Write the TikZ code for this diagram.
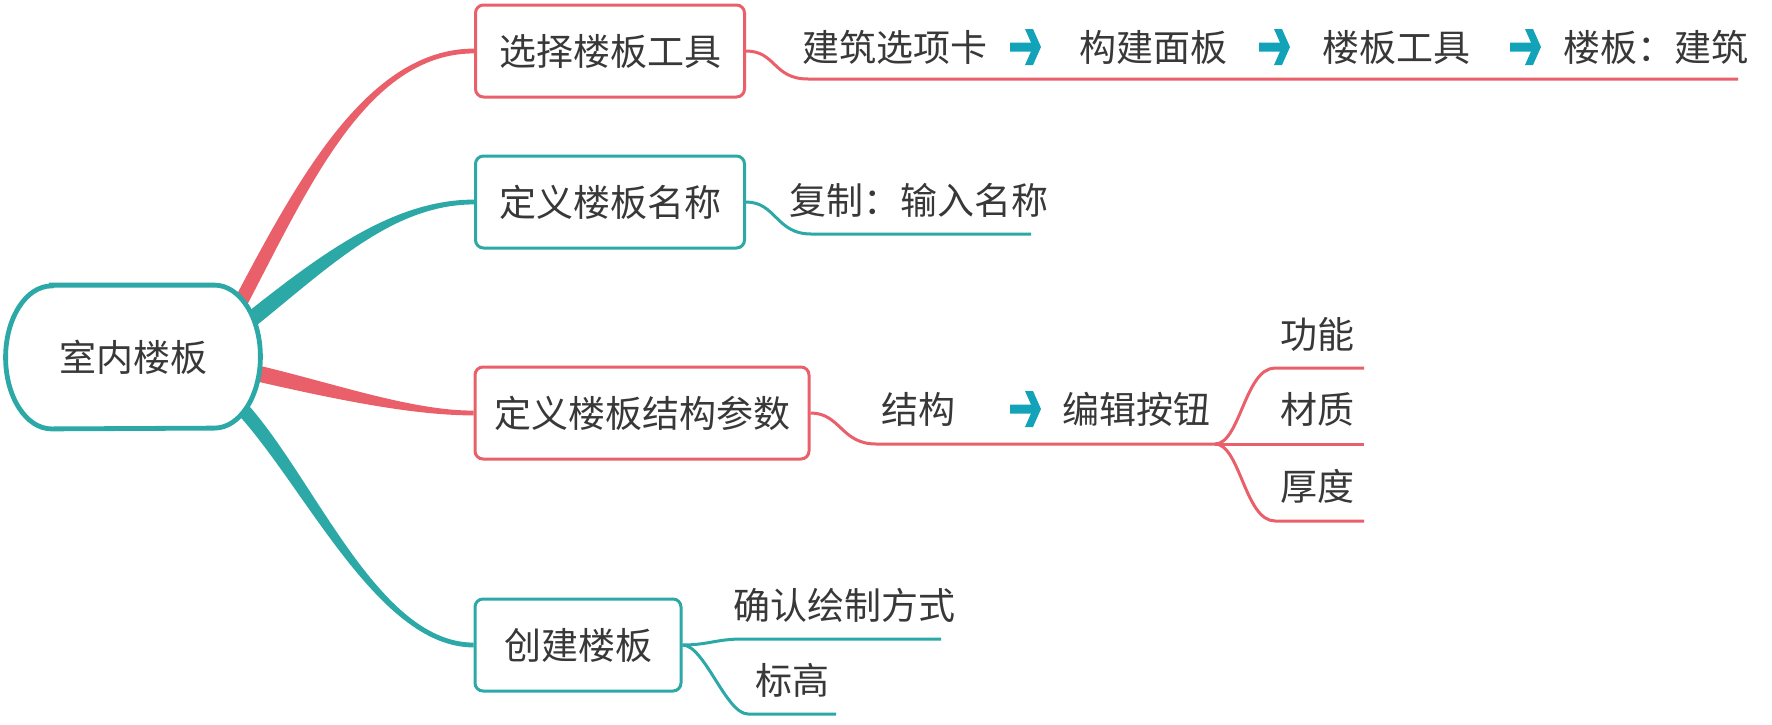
\documentclass[tikz,border=0pt]{standalone}
\usepackage{fontspec}
\setmainfont{Noto Sans CJK SC}
\usetikzlibrary{calc, backgrounds}
\definecolor{mmred}{HTML}{E9606A}
\definecolor{mmteal}{HTML}{2CA8A6}
\definecolor{mmarrow}{HTML}{12A3B8}
\definecolor{mmtext}{HTML}{383838}
\tikzset{
	mmfont/.style={
			text=mmtext,
			font=\fontsize{18.5pt}{22pt}\selectfont
		},
	rootnode/.style={
			mmfont,
			rectangle,
			draw=none,
			minimum width=127pt,
			minimum height=71.5pt,
			inner sep=0pt
		},
	rootborder/.style={
			draw=mmteal,
			line width=2.4pt,
			fill=white
		},
	topicnode/.style={
			mmfont,
			rectangle,
			rounded corners=4pt,
			line width=1.5pt,
			fill=white,
			minimum height=46pt,
			inner sep=0pt
		},
	redtopic/.style={
			topicnode,
			draw=mmred
		},
	tealtopic/.style={
			topicnode,
			draw=mmteal
		},
	subnode/.style={
			mmfont,
			anchor=west,
			inner sep=0pt
		},
	redline/.style={
			draw=mmred,
			line width=1.5pt
		},
	tealline/.style={
			draw=mmteal,
			line width=1.5pt
		},
	goarrow/.pic={
			\fill[mmarrow] (0,-4.5) -- (21,-4.5) -- (15,-18) -- (23,-18) -- (31,0)
				-- (23,18) -- (15,18) -- (21,4.5) -- (0,4.5) -- cycle;
		}
}
\newcommand\taperbranch[7]{%
	\path (#2) coordinate (tb-s) (#3) coordinate (tb-c) (#4) coordinate (tb-d) (#5) coordinate (tb-e);
	\path ($(tb-s)!#6!90:(tb-c)$) coordinate (tb-sa) ($(tb-s)!#6!-90:(tb-c)$) coordinate (tb-sb);
	\fill[#1] (tb-sa) .. controls ($(tb-c)+(tb-sa)-(tb-s)$) and ($(tb-d)+(0,#7)$) .. ($(tb-e)+(0,#7)$)
		-- ($(tb-e)+(0,-#7)$) .. controls ($(tb-d)+(0,-#7)$) and ($(tb-c)+(tb-sb)-(tb-s)$) .. (tb-sb) -- cycle;
}

\begin{document}
\begin{tikzpicture}[x=0.5pt, y=-0.5pt]
\useasboundingbox (0,0) rectangle (1772,724);

\node[rootnode] (root) at (133,357) {};
\draw[rootborder] ($(root.north west)+(46,0)$) -- ($(root.north east)+(-46,0)$)
	arc[start angle=90, end angle=-90, x radius=23pt, y radius=35.75pt]
	-- ($(root.south west)+(46,0)$)
	arc[start angle=270, end angle=90, x radius=23pt, y radius=35.75pt] -- cycle;
\node[rootnode] (roottext) at (root.center) {室内楼板};
\node[redtopic, minimum width=134.5pt] (tool) at (610,51) {选择楼板工具};
\node[tealtopic, minimum width=134.5pt] (name) at (610,202) {定义楼板名称};
\node[redtopic, minimum width=167pt] (param) at (642,413) {定义楼板结构参数};
\node[tealtopic, minimum width=103pt] (create) at (578,645) {创建楼板};

\begin{scope}[on background layer]
\taperbranch{mmred}{$(root.center)+(103,-46)$}{$(root.center)+(167,-167)$}{$(tool.west)+(-109,0)$}{tool.west}{3.5pt}{1.2pt}
\taperbranch{mmteal}{$(root.center)+(110,-31)$}{$(root.center)+(187,-92)$}{$(name.west)+(-84,0)$}{name.west}{4pt}{1.2pt}
\taperbranch{mmred}{$(root.center)+(114,14)$}{$(root.center)+(197,33)$}{$(param.west)+(-64,0)$}{param.west}{4pt}{1.2pt}
\taperbranch{mmteal}{$(root.center)+(100,42)$}{$(root.center)+(172,113)$}{$(create.west)+(-99,0)$}{create.west}{3.5pt}{1.2pt}
\end{scope}

\node[subnode] (tab) at (802,47) {建筑选项卡};
\pic (go1) at (1010,47) {goarrow};
\node[subnode] (panel) at (1079,47) {构建面板};
\pic (go2) at (1259,47) {goarrow};
\node[subnode] (floortool) at (1322,47) {楼板工具};
\pic (go3) at (1510,47) {goarrow};
\node[subnode] (floorarch) at (1563,47) {楼板：建筑};
\coordinate (toolA) at (808,79);
\coordinate (toolB) at (1738,79);
\draw[redline] (tool.east) .. controls +(30,0) and +(-35,0) .. (toolA) -- (toolB);

\node[subnode] (copy) at (789,200) {复制：输入名称};
\coordinate (nameA) at (811,234);
\coordinate (nameB) at (1031,234);
\draw[tealline] (name.east) .. controls +(30,0) and +(-35,0) .. (nameA) -- (nameB);

\node[subnode] (struct) at (881,409) {结构};
\pic (go4) at (1010,409) {goarrow};
\node[subnode] (edit) at (1062,409) {编辑按钮};
\node[subnode] (func) at (1280,334) {功能};
\node[subnode] (mat) at (1280,409) {材质};
\node[subnode] (thick) at (1280,486) {厚度};
\coordinate (paramA) at (876,444);
\coordinate (fork) at (1215,444);
\coordinate (funcA) at (1275,368);
\coordinate (funcB) at (1364,368);
\coordinate (matB) at (1364,444);
\coordinate (thickA) at (1275,521);
\coordinate (thickB) at (1364,521);
\draw[redline] (param.east) .. controls +(30,0) and +(-35,0) .. (paramA) -- (fork);
\draw[redline] (fork) .. controls +(25,0) and +(-30,0) .. (funcA) -- (funcB);
\draw[redline] (fork) -- (matB);
\draw[redline] (fork) .. controls +(25,0) and +(-30,0) .. (thickA) -- (thickB);

\node[subnode] (mode) at (733,605) {确认绘制方式};
\node[subnode] (level) at (755,680) {标高};
\coordinate (modeA) at (742,639);
\coordinate (modeB) at (941,639);
\coordinate (levelA) at (748,714);
\coordinate (levelB) at (836,714);
\draw[tealline] (create.east) .. controls +(25,0) and +(-25,0) .. (modeA) -- (modeB);
\draw[tealline] (create.east) .. controls +(22,0) and +(-22,0) .. (levelA) -- (levelB);

\end{tikzpicture}
\end{document}
